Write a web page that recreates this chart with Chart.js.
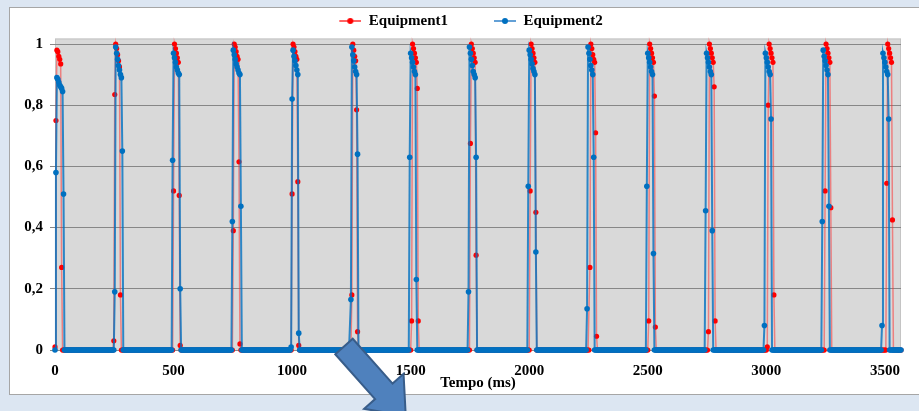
<!DOCTYPE html>
<html>
<head>
<meta charset="utf-8">
<script src="https://cdn.jsdelivr.net/npm/chart.js@4.4.1/dist/chart.umd.min.js"></script>
<style>
  html, body { margin: 0; padding: 0; background: #dce6f2; }
  #wrap { position: relative; width: 919px; height: 411px; }
</style>
</head>
<body>
<div id="wrap"><canvas id="chart" width="919" height="411"></canvas></div>
<script>
// Sampling: one reading every 4 ms, zero between the pulses
const sampleStep = 4
const timeEnd = 3568

// Equipment1 (red): pulse start times (ms) and the readings inside each pulse
const eq1Start = [0, 248, 500, 752, 1000, 1252, 1504, 1752, 2004, 2256, 2504, 2756, 3004, 3248, 3508]
const eq1Pulses = [
  [0.01, 0.75, 0.98, 0.975, 0.96, 0.95, 0.935, 0.27],
  [0.03, 0.835, 1.0, 0.985, 0.965, 0.945, 0.925, 0.18],
  [0.52, 1.0, 0.985, 0.97, 0.955, 0.94, 0.505, 0.015],
  [0.39, 1.0, 0.99, 0.975, 0.96, 0.95, 0.615, 0.02],
  [0.51, 1.0, 0.99, 0.975, 0.96, 0.95, 0.55, 0.015],
  [0.18, 1.0, 0.98, 0.96, 0.945, 0.785, 0.06],
  [0.095, 1.0, 0.985, 0.97, 0.955, 0.94, 0.855, 0.095],
  [0.675, 1.0, 0.985, 0.97, 0.955, 0.94, 0.31],
  [0.52, 1.0, 0.985, 0.97, 0.955, 0.94, 0.45],
  [0.27, 1.0, 0.985, 0.965, 0.95, 0.94, 0.71, 0.045],
  [0.095, 1.0, 0.985, 0.97, 0.955, 0.94, 0.83, 0.075],
  [0.06, 1.0, 0.985, 0.97, 0.955, 0.94, 0.86, 0.095],
  [0.01, 0.8, 1.0, 0.985, 0.97, 0.955, 0.94, 0.18],
  [0.52, 1.0, 0.985, 0.97, 0.955, 0.94, 0.465],
  [0.545, 1.0, 0.985, 0.97, 0.955, 0.94, 0.425],
]

// Equipment2 (blue)
const eq2Start = [0, 252, 496, 748, 996, 1248, 1496, 1744, 1996, 2244, 2496, 2744, 2992, 3236, 3488]
const eq2Pulses = [
  [0.0, 0.58, 0.89, 0.885, 0.875, 0.865, 0.86, 0.855, 0.845, 0.51],
  [0.19, 0.99, 0.97, 0.95, 0.93, 0.915, 0.9, 0.89, 0.65],
  [0.62, 0.97, 0.955, 0.94, 0.925, 0.915, 0.905, 0.9, 0.2],
  [0.42, 0.98, 0.965, 0.95, 0.935, 0.925, 0.915, 0.905, 0.9, 0.47],
  [0.01, 0.82, 0.98, 0.96, 0.945, 0.93, 0.915, 0.9, 0.055],
  [0.165, 0.99, 0.965, 0.945, 0.925, 0.91, 0.9, 0.64],
  [0.63, 0.97, 0.955, 0.94, 0.925, 0.91, 0.9, 0.23],
  [0.19, 0.99, 0.97, 0.95, 0.93, 0.91, 0.9, 0.89, 0.63],
  [0.535, 0.98, 0.965, 0.95, 0.935, 0.92, 0.91, 0.9, 0.32],
  [0.135, 0.99, 0.97, 0.95, 0.93, 0.915, 0.9, 0.63],
  [0.535, 0.97, 0.955, 0.94, 0.925, 0.91, 0.9, 0.315],
  [0.455, 0.97, 0.955, 0.94, 0.925, 0.91, 0.9, 0.39],
  [0.08, 0.97, 0.955, 0.94, 0.925, 0.91, 0.9, 0.755],
  [0.42, 0.98, 0.96, 0.945, 0.93, 0.915, 0.9, 0.47],
  [0.08, 0.97, 0.955, 0.94, 0.925, 0.91, 0.9, 0.755],
]

const xTicks = [0, 500, 1000, 1500, 2000, 2500, 3000, 3500]
const yTicks = [0, 0.2, 0.4, 0.6, 0.8, 1]

function buildSeries(starts, pulses) {
  const points = []
  for (let t = 0; t <= timeEnd; t += sampleStep) {
    let y = 0
    starts.forEach((s, i) => {
      const k = (t - s) / sampleStep
      if (k >= 0 && k < pulses[i].length) y = pulses[i][k]
    })
    points.push({ x: t, y: y })
  }
  return points
}

// legend icon: short line with a dot, drawn on the right part of a wider canvas
function legendIcon(lineColor, dotColor) {
  const c = document.createElement("canvas")
  c.width = 58
  c.height = 10
  const g = c.getContext("2d")
  g.strokeStyle = lineColor
  g.lineWidth = 1.5
  g.beginPath()
  g.moveTo(36, 5)
  g.lineTo(58, 5)
  g.stroke()
  g.fillStyle = dotColor
  g.beginPath()
  g.arc(47, 5, 3, 0, Math.PI * 2)
  g.fill()
  return c
}
const legendIcons = [legendIcon("#ff3030", "#ff0000"), legendIcon("#2f80c8", "#0070c0")]

const serif = { family: "'Liberation Serif', 'Times New Roman', serif", size: 15, weight: "bold" }

const framePlugin = {
  id: "frame",
  beforeDraw(chart) {
    const ctx = chart.ctx
    const a = chart.chartArea
    ctx.save()
    ctx.fillStyle = "#dce6f2"
    ctx.fillRect(0, 0, chart.width, chart.height)
    ctx.fillStyle = "#ffffff"
    ctx.fillRect(9, 7, 920, 388)
    ctx.strokeStyle = "#a6a6a6"
    ctx.lineWidth = 1
    ctx.strokeRect(9.5, 7.5, 920, 387)
    ctx.fillStyle = "#d9d9d9"
    ctx.fillRect(a.left, a.top, a.right - a.left, a.bottom - a.top)
    ctx.strokeStyle = "#c4c4c4"
    ctx.strokeRect(a.left + 0.5, a.top + 0.5, a.right - a.left - 1, a.bottom - a.top)
    ctx.restore()
  },
  afterDraw(chart) {
    // block arrow drawn over the chart
    const ctx = chart.ctx
    const s = { x: 344, y: 346.5 }
    const d = { x: 0.664, y: 0.747 }
    const n = { x: -0.747, y: 0.664 }
    const bodyLen = 60, bodyHalf = 11.7, headHalf = 26.4, headLen = 33
    const h = { x: s.x + d.x * bodyLen, y: s.y + d.y * bodyLen }
    const p = [
      [s.x - n.x * bodyHalf, s.y - n.y * bodyHalf],
      [h.x - n.x * bodyHalf, h.y - n.y * bodyHalf],
      [h.x - n.x * headHalf, h.y - n.y * headHalf],
      [h.x + d.x * headLen, h.y + d.y * headLen],
      [h.x + n.x * headHalf, h.y + n.y * headHalf],
      [h.x + n.x * bodyHalf, h.y + n.y * bodyHalf],
      [s.x + n.x * bodyHalf, s.y + n.y * bodyHalf],
    ]
    ctx.save()
    ctx.beginPath()
    ctx.moveTo(p[0][0], p[0][1])
    for (let i = 1; i < p.length; i++) ctx.lineTo(p[i][0], p[i][1])
    ctx.closePath()
    ctx.fillStyle = "#4f81bd"
    ctx.fill()
    ctx.strokeStyle = "#385d8a"
    ctx.lineWidth = 2
    ctx.stroke()
    ctx.restore()
  },
}

const ctx = document.getElementById("chart").getContext("2d")
const chart = new Chart(ctx, {
  type: "scatter",
  data: {
    datasets: [
      {
        label: "Equipment1",
        data: buildSeries(eq1Start, eq1Pulses),
        showLine: true,
        clip: false,
        borderColor: "rgba(255, 40, 40, 0.5)",
        borderWidth: 1.5,
        pointRadius: 2.6,
        pointBackgroundColor: "#ff0000",
        pointBorderWidth: 0,
        order: 1,
      },
      {
        label: "Equipment2",
        data: buildSeries(eq2Start, eq2Pulses),
        showLine: true,
        clip: false,
        borderColor: "rgba(0, 112, 192, 0.8)",
        borderWidth: 2,
        pointRadius: 2.8,
        pointBackgroundColor: "#0070c0",
        pointBorderWidth: 0,
        order: 0,
      },
    ],
  },
  options: {
    responsive: false,
    animation: false,
    layout: { padding: { left: 5, right: 18, top: 3.5, bottom: 16 } },
    elements: { line: { tension: 0 } },
    scales: {
      x: {
        type: "linear",
        min: 0,
        max: timeEnd,
        afterBuildTicks: (axis) => {
          axis.ticks = xTicks.map((v) => ({ value: v }))
        },
        ticks: {
          padding: 12,
          color: "#000",
          font: serif,
          maxRotation: 0,
          autoSkip: false,
          callback: (v) => String(v),
        },
        grid: { display: false, drawTicks: false },
        border: { display: false },
        title: { display: true, text: "Tempo (ms)", color: "#000", font: serif, padding: { top: 0, bottom: 3 } },
        afterFit: (axis) => {
          axis.height = 45
        },
      },
      y: {
        min: 0,
        max: 1.018,
        afterBuildTicks: (axis) => {
          axis.ticks = yTicks.map((v) => ({ value: v }))
        },
        ticks: {
          padding: 7,
          color: "#000",
          font: serif,
          callback: (v) => String(Math.round(v * 10) / 10).replace(".", ","),
        },
        grid: { color: "#878787", tickLength: 5 },
        border: { display: false },
        afterFit: (axis) => {
          axis.width = 50
        },
      },
    },
    plugins: {
      tooltip: { enabled: false },
      legend: {
        position: "top",
        labels: {
          usePointStyle: true,
          pointStyleWidth: 58,
          padding: 10,
          color: "#000",
          font: serif,
          generateLabels: (chart) =>
            chart.data.datasets.map((ds, i) => ({
              text: ds.label,
              pointStyle: legendIcons[i],
              fillStyle: "transparent",
              strokeStyle: "transparent",
              lineWidth: 0,
              hidden: false,
              datasetIndex: i,
              fontColor: "#000",
            })),
        },
      },
    },
  },
  plugins: [framePlugin],
})
</script>
</body>
</html>
